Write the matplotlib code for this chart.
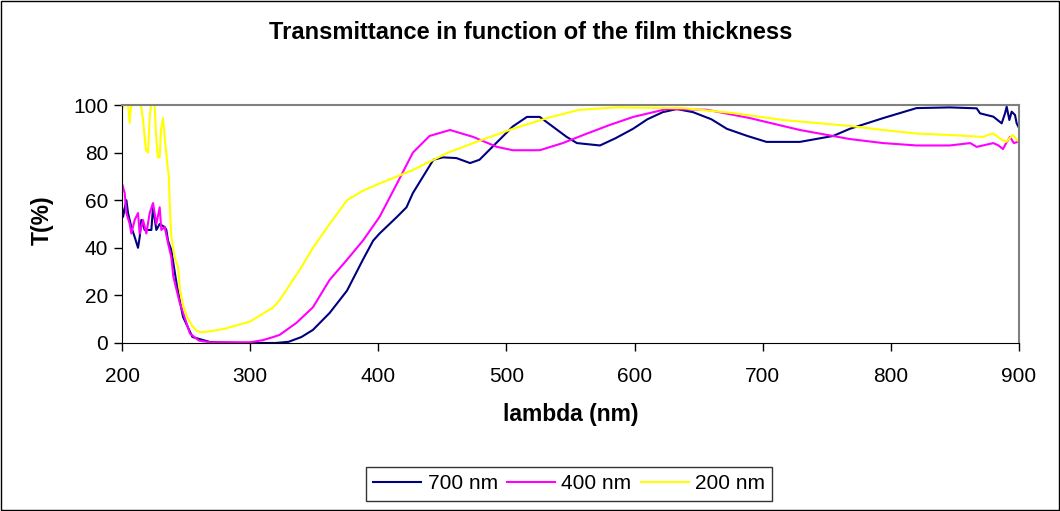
import matplotlib
matplotlib.use("Agg")
import matplotlib.pyplot as plt
from matplotlib.patches import Rectangle

plt.rcParams['font.family'] = ['Liberation Sans', 'DejaVu Sans']

# film 700 nm
wl_700 = [200, 200.8, 203.4, 204.7, 207.3, 209.9, 212.5, 213.8, 215.1, 217.7,
          220.3, 222.9, 224.2, 226.8, 229.4, 233.3, 234.6, 235.9, 238.5, 243,
          247.6, 255, 268.7, 290, 320, 330, 340, 349, 362, 375.6,
          388, 396, 401, 414.6, 422, 427, 435, 443, 450.5, 461,
          471.6, 479, 492, 505, 516, 526, 536, 547, 555, 573,
          585, 598.8, 610, 622, 633, 645.6, 660, 672, 688, 703,
          729, 755, 768, 794, 820, 846, 867, 869.6, 880, 886.5,
          889.1, 890.4, 892.5, 894.3, 896.9, 898.2, 899.5]
t_700 = [57, 53, 60, 54.6, 48.7, 44.5, 40, 44.5, 51.7, 47.5,
         47.5, 47.5, 57, 47.5, 50, 48.7, 47.5, 43, 39, 23.5,
         11, 2.5, 0.4, 0, 0, 0.5, 2.5, 5.5, 12.6, 22,
         35, 43, 46, 53, 57, 63, 70, 77, 78, 77.7,
         75.6, 77, 84, 91, 95, 95, 91, 86.6, 84, 83,
         86, 90, 94, 97, 98.3, 97, 94, 90, 87, 84.5,
         84.5, 87, 90, 94.5, 98.7, 99, 98.6, 96.5, 95.1, 92.3,
         96.5, 99.3, 93.7, 97.2, 95.8, 92.3, 90.9]

# film 400 nm
wl_400 = [200, 202.1, 203.4, 206, 207.3, 209.9, 212.5, 213.8, 216.4, 219,
          221.6, 224.2, 226.8, 229.4, 230.7, 233.3, 235.9, 237.2, 238.5, 240,
          245, 253, 260, 268.7, 300, 310, 318, 323, 336, 349,
          362, 375.6, 388, 401, 414.6, 427, 440, 456, 474, 492.6,
          505, 526, 544, 560, 580, 599, 625, 656.5, 690, 729,
          768, 794, 820, 846, 862, 867, 880, 884, 887.5, 890,
          893, 896, 899]
t_400 = [67, 63, 54.6, 50, 46, 51.7, 54.6, 46, 51.7, 46,
         54.6, 58.8, 50, 57, 47.5, 48.7, 42, 39, 36, 28,
         17, 4, 1, 0.3, 0.3, 1.2, 2.5, 3.4, 8.4, 15,
         26.5, 35, 43, 53, 67, 80, 87, 89.5, 86.6, 82.4,
         81, 81, 84, 87.4, 91.5, 95, 98.3, 98, 94.5, 89.5,
         85.7, 84, 83, 83, 84, 82.4, 84, 83, 81.5, 84,
         86.6, 84, 84.5]

# film 200 nm
wl_200 = [200, 202.3, 204.7, 206, 207, 210, 214.8, 216.4, 218.7, 220.3,
          221.6, 222.6, 225.5, 226.5, 228, 229.4, 230.4, 232, 233.3, 234.3,
          235.9, 236.6, 237.2, 238.5, 241.1, 243.7, 245.3, 247.6, 250.7, 255,
          258.5, 262, 270, 280, 300, 318, 323, 339, 349, 362,
          375.6, 388, 401, 427, 453.6, 479, 505, 531.7, 557, 586,
          638, 677, 716, 768, 794, 820, 846, 872, 876, 880,
          885, 890, 895, 899]
t_200 = [98.7, 100, 100, 92.4, 99.6, 100, 100, 93.7, 81, 80,
         95, 100, 100, 88, 78, 78, 89.5, 94.5, 86.6, 81,
         72.7, 70, 59, 44.5, 36, 32, 22, 16, 11, 7,
         5, 4.5, 5, 6, 9, 15, 18, 31, 40, 50,
         60, 64, 67, 72.7, 79.8, 85, 90, 94.5, 98, 99,
         98.7, 96.6, 93.7, 91.2, 89.5, 88, 87.4, 86.6, 87.5, 88,
         86, 84.5, 87.4, 85]

fig = plt.figure(figsize=(10.6, 5.11), dpi=100)
ax = fig.add_axes([0.1151, 0.3288, 0.8462, 0.4657])

ax.plot(wl_700, t_700, color="#000080", linewidth=1.5, label="700 nm")
ax.plot(wl_400, t_400, color="#FF00FF", linewidth=1.5, label="400 nm")
ax.plot(wl_200, t_200, color="#FFFF00", linewidth=1.5, label="200 nm")

ax.set_xlim(200, 900)
ax.set_ylim(0, 100)
ax.set_xticks(range(200, 901, 100))
ax.set_yticks(range(0, 101, 20))
ax.tick_params(direction='out', length=6, width=1, labelsize=15, colors='black')
ax.tick_params(axis='x', pad=11)
ax.tick_params(axis='y', pad=4)
ax.spines['top'].set_color('#808080')
ax.spines['right'].set_color('#808080')
ax.spines['top'].set_linewidth(1.5)
ax.spines['right'].set_linewidth(1.5)

ax.set_xlabel("lambda (nm)", fontsize=16.5, fontweight='bold', va='center')
ax.xaxis.set_label_coords(0.5, -0.302)
ax.set_ylabel("T(%)", fontsize=16.5, fontweight='bold', va='center')
ax.yaxis.set_label_coords(-0.089, 0.517)
fig.text(0.501, 0.937, "Transmittance in function of the film thickness",
         ha='center', va='center', fontsize=17, fontweight='bold')

leg = fig.legend(loc='center', bbox_to_anchor=(0.537, 0.053), ncol=3, fontsize=15,
                 frameon=True, fancybox=False, edgecolor='black', handlelength=2.3,
                 columnspacing=0.45, handletextpad=0.3, borderpad=0.35,
                 borderaxespad=0)
leg.get_frame().set_linewidth(1)

fig.patches.append(Rectangle((0.001, 0.002), 0.998, 0.996, transform=fig.transFigure,
                             fill=False, edgecolor='black', linewidth=1))

plt.savefig('out.png', dpi=100)
